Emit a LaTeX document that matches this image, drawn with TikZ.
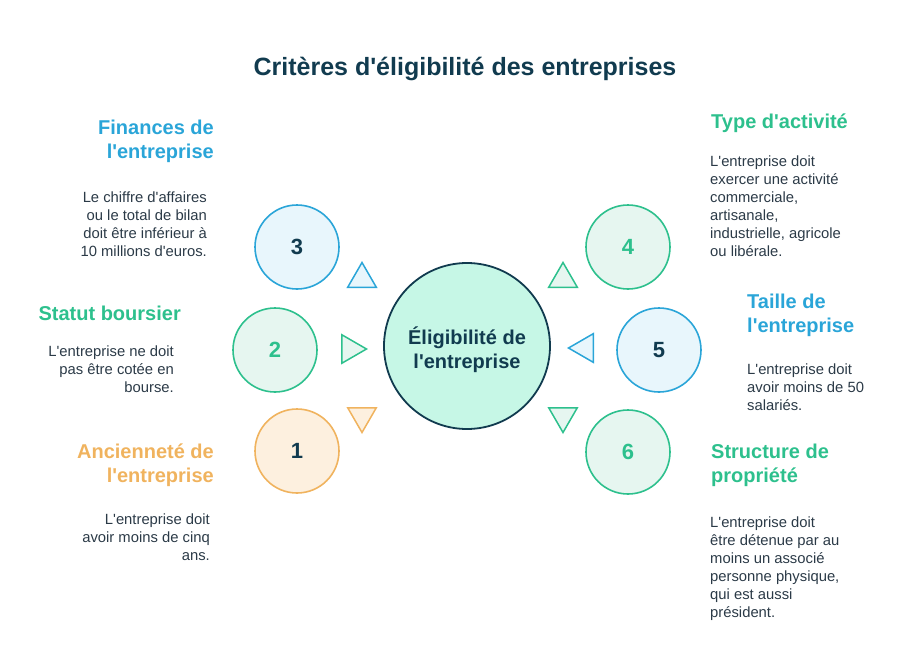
\documentclass[tikz,border=0pt]{standalone}
\usepackage{fontspec}
\setmainfont{Liberation Sans}
\usepackage{tikz}
\usetikzlibrary{shapes.geometric,positioning}

\definecolor{navy}{HTML}{113B4F}
\definecolor{bodygray}{HTML}{2B3A47}
\definecolor{cblue}{HTML}{2AA5D8}
\definecolor{cgreen}{HTML}{2DC08D}
\definecolor{corange}{HTML}{F0B35E}
\definecolor{fblue}{HTML}{E8F6FC}
\definecolor{fgreen}{HTML}{E6F6F0}
\definecolor{forange}{HTML}{FDF0DF}
\definecolor{fmint}{HTML}{C6F7E6}

\newcommand\headfont{\fontsize{20}{24}\selectfont\bfseries}
\newcommand\bodyfont{\fontsize{14.8}{18}\selectfont}
\newcommand\ap{\textquotesingle}

\begin{document}
\begin{tikzpicture}[x=1pt,y=-1pt,
  numcircle/.style={circle,minimum size=84pt,inner sep=0pt,line width=1.6pt,
    font=\fontsize{22}{22}\selectfont\bfseries},
  pointer/.style={regular polygon,regular polygon sides=3,minimum size=33pt,
    inner sep=0pt,line width=1.5pt},
  headL/.style={anchor=north east,align=right,inner sep=0pt,font=\headfont},
  headR/.style={anchor=north west,align=left,inner sep=0pt,font=\headfont},
  bodyL/.style={anchor=north east,align=right,inner sep=0pt,font=\bodyfont,text=bodygray},
  bodyR/.style={anchor=north west,align=left,inner sep=0pt,font=\bodyfont,text=bodygray}]
\useasboundingbox (0,0) rectangle (924,672);
% ---- title and centre ----
\node[font=\fontsize{25}{28}\selectfont\bfseries,text=navy] (title) at (465,69) {Critères d\ap éligibilité des entreprises};
\node[circle,minimum size=166pt,inner sep=0pt,line width=1.8pt,draw=navy,fill=fmint,
  label={[align=center,font=\headfont,text=navy,yshift=-4pt]center:Éligibilité de\\l\ap entreprise}] (elig) at (467,346) {};
% ---- left side ----
\node[numcircle,draw=cblue,fill=fblue,text=navy] (c3) at (297,247) {3};
\node[numcircle,draw=cgreen,fill=fgreen,text=cgreen] (c2) at (275,350) {2};
\node[numcircle,draw=corange,fill=forange,text=navy] (c1) at (297,451) {1};
\node[pointer,draw=cblue,fill=fblue] (t3) at (362,279) {};
\node[pointer,draw=cgreen,fill=fgreen,shape border rotate=-90] (t2) at (350,349) {};
\node[pointer,draw=corange,fill=forange,shape border rotate=180] (t1) at (362,416) {};
\node[headL,text=cblue] (h3) at (214,120) {Finances de\\l\ap entreprise};
\node[bodyL] (b3) at (207,192) {Le chiffre d\ap affaires\\ou le total de bilan\\doit être inférieur à\\10 millions d\ap euros.};
\node[headL,text=cgreen] (h2) at (181,306) {Statut boursier};
\node[bodyL] (b2) at (174,346) {L\ap entreprise ne doit\\pas être cotée en\\bourse.};
\node[headL,text=corange] (h1) at (214,444) {Ancienneté de\\l\ap entreprise};
\node[bodyL] (b1) at (210,514) {L\ap entreprise doit\\avoir moins de cinq\\ans.};
% ---- right side ----
\node[numcircle,draw=cgreen,fill=fgreen,text=cgreen] (c4) at (628,247) {4};
\node[numcircle,draw=cblue,fill=fblue,text=navy] (c5) at (659,350) {5};
\node[numcircle,draw=cgreen,fill=fgreen,text=cgreen] (c6) at (628,452) {6};
\node[pointer,draw=cgreen,fill=fgreen] (t4) at (563,279) {};
\node[pointer,draw=cblue,fill=fblue,shape border rotate=90] (t5) at (585,348) {};
\node[pointer,draw=cgreen,fill=fgreen,shape border rotate=180] (t6) at (563,416) {};
\node[headR,text=cgreen] (h4) at (711,114) {Type d\ap activité};
\node[bodyR] (b4) at (710,156) {L\ap entreprise doit\\exercer une activité\\commerciale,\\artisanale,\\industrielle, agricole\\ou libérale.};
\node[headR,text=cblue] (h5) at (747,294) {Taille de\\l\ap entreprise};
\node[bodyR] (b5) at (747,364) {L\ap entreprise doit\\avoir moins de 50\\salariés.};
\node[headR,text=cgreen] (h6) at (711,444) {Structure de\\propriété};
\node[bodyR] (b6) at (710,517) {L\ap entreprise doit\\être détenue par au\\moins un associé\\personne physique,\\qui est aussi\\président.};
\end{tikzpicture}
\end{document}
